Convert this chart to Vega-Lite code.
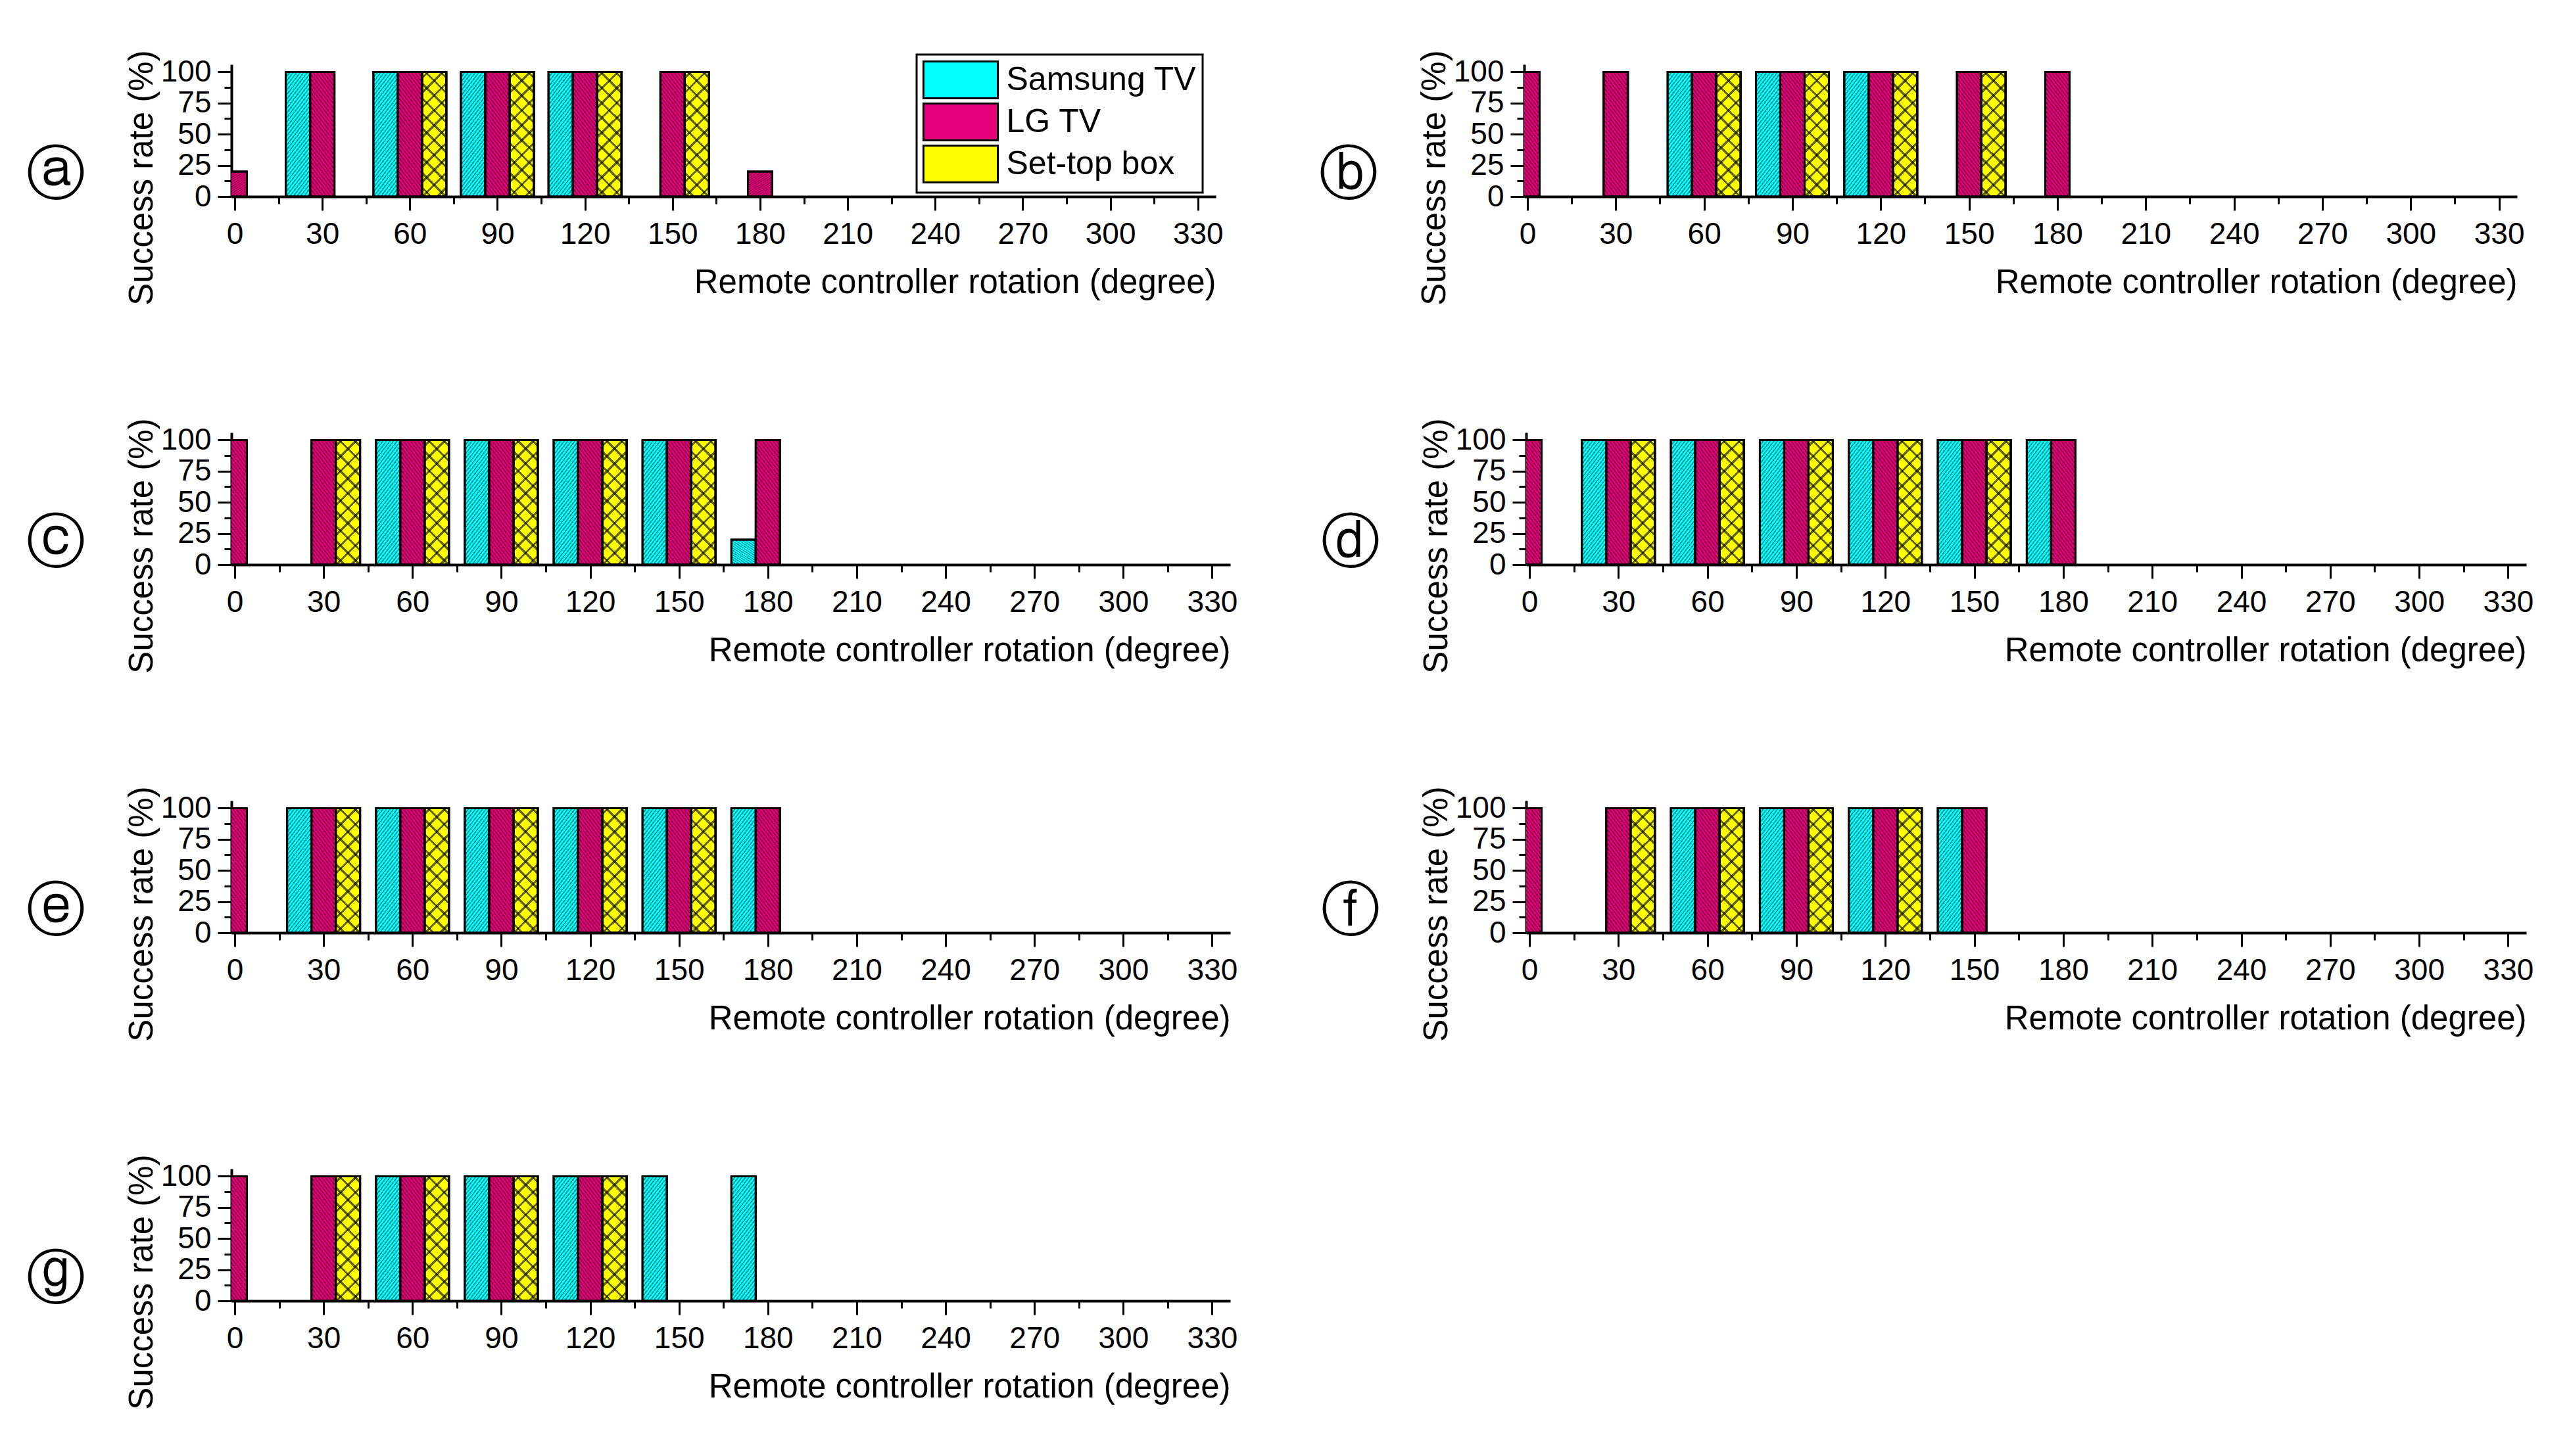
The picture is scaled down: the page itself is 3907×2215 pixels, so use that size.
{
"$schema": "https://vega.github.io/schema/vega-lite/v6.json",
"background": "white",
"padding": {"left": 40, "top": 75, "right": 5, "bottom": 5},
"params": [
 {"name": "hatchS", "value": {"gradient": "linear", "x1": 0, "y1": 0, "x2": 0.298, "y2": 1.1776, "stops": [
{"offset":0,"color":"rgba(0,0,0,0.42)"},{"offset":0.0118,"color":"rgba(0,0,0,0.42)"},{"offset":0.0118,"color":"rgba(0,0,0,0)"},
{"offset":0.0294,"color":"rgba(0,0,0,0)"},{"offset":0.0294,"color":"rgba(0,0,0,0.42)"},{"offset":0.0412,"color":"rgba(0,0,0,0.42)"},{"offset":0.0412,"color":"rgba(0,0,0,0)"},
{"offset":0.0588,"color":"rgba(0,0,0,0)"},{"offset":0.0588,"color":"rgba(0,0,0,0.42)"},{"offset":0.0706,"color":"rgba(0,0,0,0.42)"},{"offset":0.0706,"color":"rgba(0,0,0,0)"},
{"offset":0.0882,"color":"rgba(0,0,0,0)"},{"offset":0.0882,"color":"rgba(0,0,0,0.42)"},{"offset":0.1,"color":"rgba(0,0,0,0.42)"},{"offset":0.1,"color":"rgba(0,0,0,0)"},
{"offset":0.1176,"color":"rgba(0,0,0,0)"},{"offset":0.1176,"color":"rgba(0,0,0,0.42)"},{"offset":0.1294,"color":"rgba(0,0,0,0.42)"},{"offset":0.1294,"color":"rgba(0,0,0,0)"},
{"offset":0.1471,"color":"rgba(0,0,0,0)"},{"offset":0.1471,"color":"rgba(0,0,0,0.42)"},{"offset":0.1589,"color":"rgba(0,0,0,0.42)"},{"offset":0.1589,"color":"rgba(0,0,0,0)"},
{"offset":0.1765,"color":"rgba(0,0,0,0)"},{"offset":0.1765,"color":"rgba(0,0,0,0.42)"},{"offset":0.1883,"color":"rgba(0,0,0,0.42)"},{"offset":0.1883,"color":"rgba(0,0,0,0)"},
{"offset":0.2059,"color":"rgba(0,0,0,0)"},{"offset":0.2059,"color":"rgba(0,0,0,0.42)"},{"offset":0.2177,"color":"rgba(0,0,0,0.42)"},{"offset":0.2177,"color":"rgba(0,0,0,0)"},
{"offset":0.2353,"color":"rgba(0,0,0,0)"},{"offset":0.2353,"color":"rgba(0,0,0,0.42)"},{"offset":0.2471,"color":"rgba(0,0,0,0.42)"},{"offset":0.2471,"color":"rgba(0,0,0,0)"},
{"offset":0.2647,"color":"rgba(0,0,0,0)"},{"offset":0.2647,"color":"rgba(0,0,0,0.42)"},{"offset":0.2765,"color":"rgba(0,0,0,0.42)"},{"offset":0.2765,"color":"rgba(0,0,0,0)"},
{"offset":0.2941,"color":"rgba(0,0,0,0)"},{"offset":0.2941,"color":"rgba(0,0,0,0.42)"},{"offset":0.3059,"color":"rgba(0,0,0,0.42)"},{"offset":0.3059,"color":"rgba(0,0,0,0)"},
{"offset":0.3235,"color":"rgba(0,0,0,0)"},{"offset":0.3235,"color":"rgba(0,0,0,0.42)"},{"offset":0.3353,"color":"rgba(0,0,0,0.42)"},{"offset":0.3353,"color":"rgba(0,0,0,0)"},
{"offset":0.3529,"color":"rgba(0,0,0,0)"},{"offset":0.3529,"color":"rgba(0,0,0,0.42)"},{"offset":0.3647,"color":"rgba(0,0,0,0.42)"},{"offset":0.3647,"color":"rgba(0,0,0,0)"},
{"offset":0.3824,"color":"rgba(0,0,0,0)"},{"offset":0.3824,"color":"rgba(0,0,0,0.42)"},{"offset":0.3942,"color":"rgba(0,0,0,0.42)"},{"offset":0.3942,"color":"rgba(0,0,0,0)"},
{"offset":0.4118,"color":"rgba(0,0,0,0)"},{"offset":0.4118,"color":"rgba(0,0,0,0.42)"},{"offset":0.4236,"color":"rgba(0,0,0,0.42)"},{"offset":0.4236,"color":"rgba(0,0,0,0)"},
{"offset":0.4412,"color":"rgba(0,0,0,0)"},{"offset":0.4412,"color":"rgba(0,0,0,0.42)"},{"offset":0.453,"color":"rgba(0,0,0,0.42)"},{"offset":0.453,"color":"rgba(0,0,0,0)"},
{"offset":0.4706,"color":"rgba(0,0,0,0)"},{"offset":0.4706,"color":"rgba(0,0,0,0.42)"},{"offset":0.4824,"color":"rgba(0,0,0,0.42)"},{"offset":0.4824,"color":"rgba(0,0,0,0)"},
{"offset":0.5,"color":"rgba(0,0,0,0)"},{"offset":0.5,"color":"rgba(0,0,0,0.42)"},{"offset":0.5118,"color":"rgba(0,0,0,0.42)"},{"offset":0.5118,"color":"rgba(0,0,0,0)"},
{"offset":0.5294,"color":"rgba(0,0,0,0)"},{"offset":0.5294,"color":"rgba(0,0,0,0.42)"},{"offset":0.5412,"color":"rgba(0,0,0,0.42)"},{"offset":0.5412,"color":"rgba(0,0,0,0)"},
{"offset":0.5588,"color":"rgba(0,0,0,0)"},{"offset":0.5588,"color":"rgba(0,0,0,0.42)"},{"offset":0.5706,"color":"rgba(0,0,0,0.42)"},{"offset":0.5706,"color":"rgba(0,0,0,0)"},
{"offset":0.5882,"color":"rgba(0,0,0,0)"},{"offset":0.5882,"color":"rgba(0,0,0,0.42)"},{"offset":0.6,"color":"rgba(0,0,0,0.42)"},{"offset":0.6,"color":"rgba(0,0,0,0)"},
{"offset":0.6176,"color":"rgba(0,0,0,0)"},{"offset":0.6176,"color":"rgba(0,0,0,0.42)"},{"offset":0.6294,"color":"rgba(0,0,0,0.42)"},{"offset":0.6294,"color":"rgba(0,0,0,0)"},
{"offset":0.6471,"color":"rgba(0,0,0,0)"},{"offset":0.6471,"color":"rgba(0,0,0,0.42)"},{"offset":0.6589,"color":"rgba(0,0,0,0.42)"},{"offset":0.6589,"color":"rgba(0,0,0,0)"},
{"offset":0.6765,"color":"rgba(0,0,0,0)"},{"offset":0.6765,"color":"rgba(0,0,0,0.42)"},{"offset":0.6883,"color":"rgba(0,0,0,0.42)"},{"offset":0.6883,"color":"rgba(0,0,0,0)"},
{"offset":0.7059,"color":"rgba(0,0,0,0)"},{"offset":0.7059,"color":"rgba(0,0,0,0.42)"},{"offset":0.7177,"color":"rgba(0,0,0,0.42)"},{"offset":0.7177,"color":"rgba(0,0,0,0)"},
{"offset":0.7353,"color":"rgba(0,0,0,0)"},{"offset":0.7353,"color":"rgba(0,0,0,0.42)"},{"offset":0.7471,"color":"rgba(0,0,0,0.42)"},{"offset":0.7471,"color":"rgba(0,0,0,0)"},
{"offset":0.7647,"color":"rgba(0,0,0,0)"},{"offset":0.7647,"color":"rgba(0,0,0,0.42)"},{"offset":0.7765,"color":"rgba(0,0,0,0.42)"},{"offset":0.7765,"color":"rgba(0,0,0,0)"},
{"offset":0.7941,"color":"rgba(0,0,0,0)"},{"offset":0.7941,"color":"rgba(0,0,0,0.42)"},{"offset":0.8059,"color":"rgba(0,0,0,0.42)"},{"offset":0.8059,"color":"rgba(0,0,0,0)"},
{"offset":0.8235,"color":"rgba(0,0,0,0)"},{"offset":0.8235,"color":"rgba(0,0,0,0.42)"},{"offset":0.8353,"color":"rgba(0,0,0,0.42)"},{"offset":0.8353,"color":"rgba(0,0,0,0)"},
{"offset":0.8529,"color":"rgba(0,0,0,0)"},{"offset":0.8529,"color":"rgba(0,0,0,0.42)"},{"offset":0.8647,"color":"rgba(0,0,0,0.42)"},{"offset":0.8647,"color":"rgba(0,0,0,0)"},
{"offset":0.8824,"color":"rgba(0,0,0,0)"},{"offset":0.8824,"color":"rgba(0,0,0,0.42)"},{"offset":0.8942,"color":"rgba(0,0,0,0.42)"},{"offset":0.8942,"color":"rgba(0,0,0,0)"},
{"offset":0.9118,"color":"rgba(0,0,0,0)"},{"offset":0.9118,"color":"rgba(0,0,0,0.42)"},{"offset":0.9236,"color":"rgba(0,0,0,0.42)"},{"offset":0.9236,"color":"rgba(0,0,0,0)"},
{"offset":0.9412,"color":"rgba(0,0,0,0)"},{"offset":0.9412,"color":"rgba(0,0,0,0.42)"},{"offset":0.953,"color":"rgba(0,0,0,0.42)"},{"offset":0.953,"color":"rgba(0,0,0,0)"},
{"offset":0.9706,"color":"rgba(0,0,0,0)"},{"offset":0.9706,"color":"rgba(0,0,0,0.42)"},{"offset":0.9824,"color":"rgba(0,0,0,0.42)"},{"offset":0.9824,"color":"rgba(0,0,0,0)"},
{"offset":1,"color":"rgba(0,0,0,0)"}]}},
 {"name": "hatchL", "value": {"gradient": "linear", "x1": 1, "y1": 0, "x2": 0.702, "y2": 1.1776, "stops": [
{"offset":0,"color":"rgba(0,0,0,0.42)"},{"offset":0.0118,"color":"rgba(0,0,0,0.42)"},{"offset":0.0118,"color":"rgba(0,0,0,0)"},
{"offset":0.0294,"color":"rgba(0,0,0,0)"},{"offset":0.0294,"color":"rgba(0,0,0,0.42)"},{"offset":0.0412,"color":"rgba(0,0,0,0.42)"},{"offset":0.0412,"color":"rgba(0,0,0,0)"},
{"offset":0.0588,"color":"rgba(0,0,0,0)"},{"offset":0.0588,"color":"rgba(0,0,0,0.42)"},{"offset":0.0706,"color":"rgba(0,0,0,0.42)"},{"offset":0.0706,"color":"rgba(0,0,0,0)"},
{"offset":0.0882,"color":"rgba(0,0,0,0)"},{"offset":0.0882,"color":"rgba(0,0,0,0.42)"},{"offset":0.1,"color":"rgba(0,0,0,0.42)"},{"offset":0.1,"color":"rgba(0,0,0,0)"},
{"offset":0.1176,"color":"rgba(0,0,0,0)"},{"offset":0.1176,"color":"rgba(0,0,0,0.42)"},{"offset":0.1294,"color":"rgba(0,0,0,0.42)"},{"offset":0.1294,"color":"rgba(0,0,0,0)"},
{"offset":0.1471,"color":"rgba(0,0,0,0)"},{"offset":0.1471,"color":"rgba(0,0,0,0.42)"},{"offset":0.1589,"color":"rgba(0,0,0,0.42)"},{"offset":0.1589,"color":"rgba(0,0,0,0)"},
{"offset":0.1765,"color":"rgba(0,0,0,0)"},{"offset":0.1765,"color":"rgba(0,0,0,0.42)"},{"offset":0.1883,"color":"rgba(0,0,0,0.42)"},{"offset":0.1883,"color":"rgba(0,0,0,0)"},
{"offset":0.2059,"color":"rgba(0,0,0,0)"},{"offset":0.2059,"color":"rgba(0,0,0,0.42)"},{"offset":0.2177,"color":"rgba(0,0,0,0.42)"},{"offset":0.2177,"color":"rgba(0,0,0,0)"},
{"offset":0.2353,"color":"rgba(0,0,0,0)"},{"offset":0.2353,"color":"rgba(0,0,0,0.42)"},{"offset":0.2471,"color":"rgba(0,0,0,0.42)"},{"offset":0.2471,"color":"rgba(0,0,0,0)"},
{"offset":0.2647,"color":"rgba(0,0,0,0)"},{"offset":0.2647,"color":"rgba(0,0,0,0.42)"},{"offset":0.2765,"color":"rgba(0,0,0,0.42)"},{"offset":0.2765,"color":"rgba(0,0,0,0)"},
{"offset":0.2941,"color":"rgba(0,0,0,0)"},{"offset":0.2941,"color":"rgba(0,0,0,0.42)"},{"offset":0.3059,"color":"rgba(0,0,0,0.42)"},{"offset":0.3059,"color":"rgba(0,0,0,0)"},
{"offset":0.3235,"color":"rgba(0,0,0,0)"},{"offset":0.3235,"color":"rgba(0,0,0,0.42)"},{"offset":0.3353,"color":"rgba(0,0,0,0.42)"},{"offset":0.3353,"color":"rgba(0,0,0,0)"},
{"offset":0.3529,"color":"rgba(0,0,0,0)"},{"offset":0.3529,"color":"rgba(0,0,0,0.42)"},{"offset":0.3647,"color":"rgba(0,0,0,0.42)"},{"offset":0.3647,"color":"rgba(0,0,0,0)"},
{"offset":0.3824,"color":"rgba(0,0,0,0)"},{"offset":0.3824,"color":"rgba(0,0,0,0.42)"},{"offset":0.3942,"color":"rgba(0,0,0,0.42)"},{"offset":0.3942,"color":"rgba(0,0,0,0)"},
{"offset":0.4118,"color":"rgba(0,0,0,0)"},{"offset":0.4118,"color":"rgba(0,0,0,0.42)"},{"offset":0.4236,"color":"rgba(0,0,0,0.42)"},{"offset":0.4236,"color":"rgba(0,0,0,0)"},
{"offset":0.4412,"color":"rgba(0,0,0,0)"},{"offset":0.4412,"color":"rgba(0,0,0,0.42)"},{"offset":0.453,"color":"rgba(0,0,0,0.42)"},{"offset":0.453,"color":"rgba(0,0,0,0)"},
{"offset":0.4706,"color":"rgba(0,0,0,0)"},{"offset":0.4706,"color":"rgba(0,0,0,0.42)"},{"offset":0.4824,"color":"rgba(0,0,0,0.42)"},{"offset":0.4824,"color":"rgba(0,0,0,0)"},
{"offset":0.5,"color":"rgba(0,0,0,0)"},{"offset":0.5,"color":"rgba(0,0,0,0.42)"},{"offset":0.5118,"color":"rgba(0,0,0,0.42)"},{"offset":0.5118,"color":"rgba(0,0,0,0)"},
{"offset":0.5294,"color":"rgba(0,0,0,0)"},{"offset":0.5294,"color":"rgba(0,0,0,0.42)"},{"offset":0.5412,"color":"rgba(0,0,0,0.42)"},{"offset":0.5412,"color":"rgba(0,0,0,0)"},
{"offset":0.5588,"color":"rgba(0,0,0,0)"},{"offset":0.5588,"color":"rgba(0,0,0,0.42)"},{"offset":0.5706,"color":"rgba(0,0,0,0.42)"},{"offset":0.5706,"color":"rgba(0,0,0,0)"},
{"offset":0.5882,"color":"rgba(0,0,0,0)"},{"offset":0.5882,"color":"rgba(0,0,0,0.42)"},{"offset":0.6,"color":"rgba(0,0,0,0.42)"},{"offset":0.6,"color":"rgba(0,0,0,0)"},
{"offset":0.6176,"color":"rgba(0,0,0,0)"},{"offset":0.6176,"color":"rgba(0,0,0,0.42)"},{"offset":0.6294,"color":"rgba(0,0,0,0.42)"},{"offset":0.6294,"color":"rgba(0,0,0,0)"},
{"offset":0.6471,"color":"rgba(0,0,0,0)"},{"offset":0.6471,"color":"rgba(0,0,0,0.42)"},{"offset":0.6589,"color":"rgba(0,0,0,0.42)"},{"offset":0.6589,"color":"rgba(0,0,0,0)"},
{"offset":0.6765,"color":"rgba(0,0,0,0)"},{"offset":0.6765,"color":"rgba(0,0,0,0.42)"},{"offset":0.6883,"color":"rgba(0,0,0,0.42)"},{"offset":0.6883,"color":"rgba(0,0,0,0)"},
{"offset":0.7059,"color":"rgba(0,0,0,0)"},{"offset":0.7059,"color":"rgba(0,0,0,0.42)"},{"offset":0.7177,"color":"rgba(0,0,0,0.42)"},{"offset":0.7177,"color":"rgba(0,0,0,0)"},
{"offset":0.7353,"color":"rgba(0,0,0,0)"},{"offset":0.7353,"color":"rgba(0,0,0,0.42)"},{"offset":0.7471,"color":"rgba(0,0,0,0.42)"},{"offset":0.7471,"color":"rgba(0,0,0,0)"},
{"offset":0.7647,"color":"rgba(0,0,0,0)"},{"offset":0.7647,"color":"rgba(0,0,0,0.42)"},{"offset":0.7765,"color":"rgba(0,0,0,0.42)"},{"offset":0.7765,"color":"rgba(0,0,0,0)"},
{"offset":0.7941,"color":"rgba(0,0,0,0)"},{"offset":0.7941,"color":"rgba(0,0,0,0.42)"},{"offset":0.8059,"color":"rgba(0,0,0,0.42)"},{"offset":0.8059,"color":"rgba(0,0,0,0)"},
{"offset":0.8235,"color":"rgba(0,0,0,0)"},{"offset":0.8235,"color":"rgba(0,0,0,0.42)"},{"offset":0.8353,"color":"rgba(0,0,0,0.42)"},{"offset":0.8353,"color":"rgba(0,0,0,0)"},
{"offset":0.8529,"color":"rgba(0,0,0,0)"},{"offset":0.8529,"color":"rgba(0,0,0,0.42)"},{"offset":0.8647,"color":"rgba(0,0,0,0.42)"},{"offset":0.8647,"color":"rgba(0,0,0,0)"},
{"offset":0.8824,"color":"rgba(0,0,0,0)"},{"offset":0.8824,"color":"rgba(0,0,0,0.42)"},{"offset":0.8942,"color":"rgba(0,0,0,0.42)"},{"offset":0.8942,"color":"rgba(0,0,0,0)"},
{"offset":0.9118,"color":"rgba(0,0,0,0)"},{"offset":0.9118,"color":"rgba(0,0,0,0.42)"},{"offset":0.9236,"color":"rgba(0,0,0,0.42)"},{"offset":0.9236,"color":"rgba(0,0,0,0)"},
{"offset":0.9412,"color":"rgba(0,0,0,0)"},{"offset":0.9412,"color":"rgba(0,0,0,0.42)"},{"offset":0.953,"color":"rgba(0,0,0,0.42)"},{"offset":0.953,"color":"rgba(0,0,0,0)"},
{"offset":0.9706,"color":"rgba(0,0,0,0)"},{"offset":0.9706,"color":"rgba(0,0,0,0.42)"},{"offset":0.9824,"color":"rgba(0,0,0,0.42)"},{"offset":0.9824,"color":"rgba(0,0,0,0)"},
{"offset":1,"color":"rgba(0,0,0,0)"}]}},
 {"name": "hatchY1", "value": {"gradient": "linear", "x1": 0, "y1": 0, "x2": 0.224, "y2": 1.151, "stops": [
{"offset":0.03,"color":"rgba(0,0,0,0)"},{"offset":0.03,"color":"rgba(0,0,0,0.6)"},{"offset":0.05,"color":"rgba(0,0,0,0.6)"},{"offset":0.05,"color":"rgba(0,0,0,0)"},
{"offset":0.13,"color":"rgba(0,0,0,0)"},{"offset":0.13,"color":"rgba(0,0,0,0.6)"},{"offset":0.15,"color":"rgba(0,0,0,0.6)"},{"offset":0.15,"color":"rgba(0,0,0,0)"},
{"offset":0.23,"color":"rgba(0,0,0,0)"},{"offset":0.23,"color":"rgba(0,0,0,0.6)"},{"offset":0.25,"color":"rgba(0,0,0,0.6)"},{"offset":0.25,"color":"rgba(0,0,0,0)"},
{"offset":0.33,"color":"rgba(0,0,0,0)"},{"offset":0.33,"color":"rgba(0,0,0,0.6)"},{"offset":0.35,"color":"rgba(0,0,0,0.6)"},{"offset":0.35,"color":"rgba(0,0,0,0)"},
{"offset":0.43,"color":"rgba(0,0,0,0)"},{"offset":0.43,"color":"rgba(0,0,0,0.6)"},{"offset":0.45,"color":"rgba(0,0,0,0.6)"},{"offset":0.45,"color":"rgba(0,0,0,0)"},
{"offset":0.53,"color":"rgba(0,0,0,0)"},{"offset":0.53,"color":"rgba(0,0,0,0.6)"},{"offset":0.55,"color":"rgba(0,0,0,0.6)"},{"offset":0.55,"color":"rgba(0,0,0,0)"},
{"offset":0.63,"color":"rgba(0,0,0,0)"},{"offset":0.63,"color":"rgba(0,0,0,0.6)"},{"offset":0.65,"color":"rgba(0,0,0,0.6)"},{"offset":0.65,"color":"rgba(0,0,0,0)"},
{"offset":0.73,"color":"rgba(0,0,0,0)"},{"offset":0.73,"color":"rgba(0,0,0,0.6)"},{"offset":0.75,"color":"rgba(0,0,0,0.6)"},{"offset":0.75,"color":"rgba(0,0,0,0)"},
{"offset":0.83,"color":"rgba(0,0,0,0)"},{"offset":0.83,"color":"rgba(0,0,0,0.6)"},{"offset":0.85,"color":"rgba(0,0,0,0.6)"},{"offset":0.85,"color":"rgba(0,0,0,0)"},
{"offset":0.93,"color":"rgba(0,0,0,0)"},{"offset":0.93,"color":"rgba(0,0,0,0.6)"},{"offset":0.95,"color":"rgba(0,0,0,0.6)"},{"offset":0.95,"color":"rgba(0,0,0,0)"},
{"offset":1,"color":"rgba(0,0,0,0)"}]}},
 {"name": "hatchY2", "value": {"gradient": "linear", "x1": 1, "y1": 0, "x2": 0.776, "y2": 1.151, "stops": [
{"offset":0.03,"color":"rgba(0,0,0,0)"},{"offset":0.03,"color":"rgba(0,0,0,0.6)"},{"offset":0.05,"color":"rgba(0,0,0,0.6)"},{"offset":0.05,"color":"rgba(0,0,0,0)"},
{"offset":0.13,"color":"rgba(0,0,0,0)"},{"offset":0.13,"color":"rgba(0,0,0,0.6)"},{"offset":0.15,"color":"rgba(0,0,0,0.6)"},{"offset":0.15,"color":"rgba(0,0,0,0)"},
{"offset":0.23,"color":"rgba(0,0,0,0)"},{"offset":0.23,"color":"rgba(0,0,0,0.6)"},{"offset":0.25,"color":"rgba(0,0,0,0.6)"},{"offset":0.25,"color":"rgba(0,0,0,0)"},
{"offset":0.33,"color":"rgba(0,0,0,0)"},{"offset":0.33,"color":"rgba(0,0,0,0.6)"},{"offset":0.35,"color":"rgba(0,0,0,0.6)"},{"offset":0.35,"color":"rgba(0,0,0,0)"},
{"offset":0.43,"color":"rgba(0,0,0,0)"},{"offset":0.43,"color":"rgba(0,0,0,0.6)"},{"offset":0.45,"color":"rgba(0,0,0,0.6)"},{"offset":0.45,"color":"rgba(0,0,0,0)"},
{"offset":0.53,"color":"rgba(0,0,0,0)"},{"offset":0.53,"color":"rgba(0,0,0,0.6)"},{"offset":0.55,"color":"rgba(0,0,0,0.6)"},{"offset":0.55,"color":"rgba(0,0,0,0)"},
{"offset":0.63,"color":"rgba(0,0,0,0)"},{"offset":0.63,"color":"rgba(0,0,0,0.6)"},{"offset":0.65,"color":"rgba(0,0,0,0.6)"},{"offset":0.65,"color":"rgba(0,0,0,0)"},
{"offset":0.73,"color":"rgba(0,0,0,0)"},{"offset":0.73,"color":"rgba(0,0,0,0.6)"},{"offset":0.75,"color":"rgba(0,0,0,0.6)"},{"offset":0.75,"color":"rgba(0,0,0,0)"},
{"offset":0.83,"color":"rgba(0,0,0,0)"},{"offset":0.83,"color":"rgba(0,0,0,0.6)"},{"offset":0.85,"color":"rgba(0,0,0,0.6)"},{"offset":0.85,"color":"rgba(0,0,0,0)"},
{"offset":0.93,"color":"rgba(0,0,0,0)"},{"offset":0.93,"color":"rgba(0,0,0,0.6)"},{"offset":0.95,"color":"rgba(0,0,0,0.6)"},{"offset":0.95,"color":"rgba(0,0,0,0)"},
{"offset":1,"color":"rgba(0,0,0,0)"}]}}
],
"datasets": {"bars": [
{"panel":"a","angle":0,"device":"LG TV","rate":20},
{"panel":"a","angle":30,"device":"Samsung TV","rate":100},{"panel":"a","angle":30,"device":"LG TV","rate":100},
{"panel":"a","angle":60,"device":"Samsung TV","rate":100},{"panel":"a","angle":60,"device":"LG TV","rate":100},{"panel":"a","angle":60,"device":"Set-top box","rate":100},
{"panel":"a","angle":90,"device":"Samsung TV","rate":100},{"panel":"a","angle":90,"device":"LG TV","rate":100},{"panel":"a","angle":90,"device":"Set-top box","rate":100},
{"panel":"a","angle":120,"device":"Samsung TV","rate":100},{"panel":"a","angle":120,"device":"LG TV","rate":100},{"panel":"a","angle":120,"device":"Set-top box","rate":100},
{"panel":"a","angle":150,"device":"LG TV","rate":100},{"panel":"a","angle":150,"device":"Set-top box","rate":100},
{"panel":"a","angle":180,"device":"LG TV","rate":20},
{"panel":"b","angle":0,"device":"LG TV","rate":100},
{"panel":"b","angle":30,"device":"LG TV","rate":100},
{"panel":"b","angle":60,"device":"Samsung TV","rate":100},{"panel":"b","angle":60,"device":"LG TV","rate":100},{"panel":"b","angle":60,"device":"Set-top box","rate":100},
{"panel":"b","angle":90,"device":"Samsung TV","rate":100},{"panel":"b","angle":90,"device":"LG TV","rate":100},{"panel":"b","angle":90,"device":"Set-top box","rate":100},
{"panel":"b","angle":120,"device":"Samsung TV","rate":100},{"panel":"b","angle":120,"device":"LG TV","rate":100},{"panel":"b","angle":120,"device":"Set-top box","rate":100},
{"panel":"b","angle":150,"device":"LG TV","rate":100},{"panel":"b","angle":150,"device":"Set-top box","rate":100},
{"panel":"b","angle":180,"device":"LG TV","rate":100},
{"panel":"c","angle":0,"device":"LG TV","rate":100},
{"panel":"c","angle":30,"device":"LG TV","rate":100},{"panel":"c","angle":30,"device":"Set-top box","rate":100},
{"panel":"c","angle":60,"device":"Samsung TV","rate":100},{"panel":"c","angle":60,"device":"LG TV","rate":100},{"panel":"c","angle":60,"device":"Set-top box","rate":100},
{"panel":"c","angle":90,"device":"Samsung TV","rate":100},{"panel":"c","angle":90,"device":"LG TV","rate":100},{"panel":"c","angle":90,"device":"Set-top box","rate":100},
{"panel":"c","angle":120,"device":"Samsung TV","rate":100},{"panel":"c","angle":120,"device":"LG TV","rate":100},{"panel":"c","angle":120,"device":"Set-top box","rate":100},
{"panel":"c","angle":150,"device":"Samsung TV","rate":100},{"panel":"c","angle":150,"device":"LG TV","rate":100},{"panel":"c","angle":150,"device":"Set-top box","rate":100},
{"panel":"c","angle":180,"device":"Samsung TV","rate":20},{"panel":"c","angle":180,"device":"LG TV","rate":100},
{"panel":"d","angle":0,"device":"LG TV","rate":100},
{"panel":"d","angle":30,"device":"Samsung TV","rate":100},{"panel":"d","angle":30,"device":"LG TV","rate":100},{"panel":"d","angle":30,"device":"Set-top box","rate":100},
{"panel":"d","angle":60,"device":"Samsung TV","rate":100},{"panel":"d","angle":60,"device":"LG TV","rate":100},{"panel":"d","angle":60,"device":"Set-top box","rate":100},
{"panel":"d","angle":90,"device":"Samsung TV","rate":100},{"panel":"d","angle":90,"device":"LG TV","rate":100},{"panel":"d","angle":90,"device":"Set-top box","rate":100},
{"panel":"d","angle":120,"device":"Samsung TV","rate":100},{"panel":"d","angle":120,"device":"LG TV","rate":100},{"panel":"d","angle":120,"device":"Set-top box","rate":100},
{"panel":"d","angle":150,"device":"Samsung TV","rate":100},{"panel":"d","angle":150,"device":"LG TV","rate":100},{"panel":"d","angle":150,"device":"Set-top box","rate":100},
{"panel":"d","angle":180,"device":"Samsung TV","rate":100},{"panel":"d","angle":180,"device":"LG TV","rate":100},
{"panel":"e","angle":0,"device":"LG TV","rate":100},
{"panel":"e","angle":30,"device":"Samsung TV","rate":100},{"panel":"e","angle":30,"device":"LG TV","rate":100},{"panel":"e","angle":30,"device":"Set-top box","rate":100},
{"panel":"e","angle":60,"device":"Samsung TV","rate":100},{"panel":"e","angle":60,"device":"LG TV","rate":100},{"panel":"e","angle":60,"device":"Set-top box","rate":100},
{"panel":"e","angle":90,"device":"Samsung TV","rate":100},{"panel":"e","angle":90,"device":"LG TV","rate":100},{"panel":"e","angle":90,"device":"Set-top box","rate":100},
{"panel":"e","angle":120,"device":"Samsung TV","rate":100},{"panel":"e","angle":120,"device":"LG TV","rate":100},{"panel":"e","angle":120,"device":"Set-top box","rate":100},
{"panel":"e","angle":150,"device":"Samsung TV","rate":100},{"panel":"e","angle":150,"device":"LG TV","rate":100},{"panel":"e","angle":150,"device":"Set-top box","rate":100},
{"panel":"e","angle":180,"device":"Samsung TV","rate":100},{"panel":"e","angle":180,"device":"LG TV","rate":100},
{"panel":"f","angle":0,"device":"LG TV","rate":100},
{"panel":"f","angle":30,"device":"LG TV","rate":100},{"panel":"f","angle":30,"device":"Set-top box","rate":100},
{"panel":"f","angle":60,"device":"Samsung TV","rate":100},{"panel":"f","angle":60,"device":"LG TV","rate":100},{"panel":"f","angle":60,"device":"Set-top box","rate":100},
{"panel":"f","angle":90,"device":"Samsung TV","rate":100},{"panel":"f","angle":90,"device":"LG TV","rate":100},{"panel":"f","angle":90,"device":"Set-top box","rate":100},
{"panel":"f","angle":120,"device":"Samsung TV","rate":100},{"panel":"f","angle":120,"device":"LG TV","rate":100},{"panel":"f","angle":120,"device":"Set-top box","rate":100},
{"panel":"f","angle":150,"device":"Samsung TV","rate":100},{"panel":"f","angle":150,"device":"LG TV","rate":100},
{"panel":"g","angle":0,"device":"LG TV","rate":100},
{"panel":"g","angle":30,"device":"LG TV","rate":100},{"panel":"g","angle":30,"device":"Set-top box","rate":100},
{"panel":"g","angle":60,"device":"Samsung TV","rate":100},{"panel":"g","angle":60,"device":"LG TV","rate":100},{"panel":"g","angle":60,"device":"Set-top box","rate":100},
{"panel":"g","angle":90,"device":"Samsung TV","rate":100},{"panel":"g","angle":90,"device":"LG TV","rate":100},{"panel":"g","angle":90,"device":"Set-top box","rate":100},
{"panel":"g","angle":120,"device":"Samsung TV","rate":100},{"panel":"g","angle":120,"device":"LG TV","rate":100},{"panel":"g","angle":120,"device":"Set-top box","rate":100},
{"panel":"g","angle":150,"device":"Samsung TV","rate":100},
{"panel":"g","angle":180,"device":"Samsung TV","rate":100}
]},
"spacing": 170,
"resolve": {"scale": {"color": "independent"}, "legend": {"color": "independent"}},
"vconcat": [
{"hconcat": [
{"width": 1497, "height": 201,
 "title": {"text": "ⓐ", "orient": "left", "angle": 0, "align": "right", "baseline": "middle", "fontSize": 90, "font": "DejaVu Sans", "fontWeight": "normal", "offset": -30, "dy": 68, "color": "black"},
 "data": {"name": "bars"},
 "transform": [{"filter": "datum.panel == 'a'"}],
 "encoding": {
  "x": {"field": "angle", "type": "quantitative", "scale": {"domain": [0, 335], "nice": false, "zero": false}, "axis": {"title": "Remote controller rotation (degree)", "values": [0,15,30,45,60,75,90,105,120,135,150,165,180,195,210,225,240,255,270,285,300,315,330], "labelExpr": "datum.value % 30 == 0 ? datum.label : ''", "tickSize": {"condition": {"test": "datum.value % 30 == 0", "value": 21}, "value": 11}}},
  "y": {"field": "rate", "type": "quantitative", "stack": null, "scale": {"domain": [0, 106], "nice": false}, "axis": {"title": "Success rate (%)", "titleY": 172, "values": [0,12.5,25,37.5,50,62.5,75,87.5,100], "labelExpr": "datum.value % 25 == 0 ? datum.label : ''", "tickSize": {"condition": {"test": "datum.value % 25 == 0", "value": 21}, "value": 11}}}
 },
 "layer": [
  {"transform": [{"filter": "datum.device == 'Samsung TV'"}], "mark": {"type": "bar", "width": 37, "xOffset": -37, "clip": true}, "encoding": {"color": {"field": "device", "type": "nominal", "scale": {"domain": ["Samsung TV", "LG TV", "Set-top box"], "range": ["#00FFFF", "#E5007A", "#FFFF00"]}, "legend": {"orient": "none", "legendX": 1042, "legendY": -15, "title": null}}}},
  {"transform": [{"filter": "datum.device == 'LG TV'"}], "mark": {"type": "bar", "width": 37, "xOffset": 0, "clip": true}, "encoding": {"color": {"field": "device", "type": "nominal", "scale": {"domain": ["Samsung TV", "LG TV", "Set-top box"], "range": ["#00FFFF", "#E5007A", "#FFFF00"]}, "legend": {"orient": "none", "legendX": 1042, "legendY": -15, "title": null}}}},
  {"transform": [{"filter": "datum.device == 'Set-top box'"}], "mark": {"type": "bar", "width": 37, "xOffset": 37, "clip": true}, "encoding": {"color": {"field": "device", "type": "nominal", "scale": {"domain": ["Samsung TV", "LG TV", "Set-top box"], "range": ["#00FFFF", "#E5007A", "#FFFF00"]}, "legend": {"orient": "none", "legendX": 1042, "legendY": -15, "title": null}}}},
  {"transform": [{"filter": "datum.device == 'Samsung TV'"}], "mark": {"type": "bar", "fill": {"expr": "hatchS"}, "width": 37, "xOffset": -37, "clip": true}},
  {"transform": [{"filter": "datum.device == 'LG TV'"}], "mark": {"type": "bar", "fill": {"expr": "hatchL"}, "width": 37, "xOffset": 0, "clip": true}},
  {"transform": [{"filter": "datum.device == 'Set-top box'"}], "mark": {"type": "bar", "fill": {"expr": "hatchY1"}, "width": 37, "xOffset": 37, "clip": true}},
  {"transform": [{"filter": "datum.device == 'Set-top box'"}], "mark": {"type": "bar", "fill": {"expr": "hatchY2"}, "width": 37, "xOffset": 37, "clip": true}}
 ]},
{"width": 1510, "height": 201,
 "title": {"text": "ⓑ", "orient": "left", "angle": 0, "align": "right", "baseline": "middle", "fontSize": 90, "font": "DejaVu Sans", "fontWeight": "normal", "offset": -30, "dy": 68, "color": "black"},
 "data": {"name": "bars"},
 "transform": [{"filter": "datum.panel == 'b'"}],
 "encoding": {
  "x": {"field": "angle", "type": "quantitative", "scale": {"domain": [0, 335], "nice": false, "zero": false}, "axis": {"title": "Remote controller rotation (degree)", "values": [0,15,30,45,60,75,90,105,120,135,150,165,180,195,210,225,240,255,270,285,300,315,330], "labelExpr": "datum.value % 30 == 0 ? datum.label : ''", "tickSize": {"condition": {"test": "datum.value % 30 == 0", "value": 21}, "value": 11}}},
  "y": {"field": "rate", "type": "quantitative", "stack": null, "scale": {"domain": [0, 106], "nice": false}, "axis": {"title": "Success rate (%)", "titleY": 172, "values": [0,12.5,25,37.5,50,62.5,75,87.5,100], "labelExpr": "datum.value % 25 == 0 ? datum.label : ''", "tickSize": {"condition": {"test": "datum.value % 25 == 0", "value": 21}, "value": 11}}}
 },
 "layer": [
  {"transform": [{"filter": "datum.device == 'Samsung TV'"}], "mark": {"type": "bar", "width": 37, "xOffset": -37, "clip": true}, "encoding": {"color": {"field": "device", "type": "nominal", "scale": {"domain": ["Samsung TV", "LG TV", "Set-top box"], "range": ["#00FFFF", "#E5007A", "#FFFF00"]}, "legend": null}}},
  {"transform": [{"filter": "datum.device == 'LG TV'"}], "mark": {"type": "bar", "width": 37, "xOffset": 0, "clip": true}, "encoding": {"color": {"field": "device", "type": "nominal", "scale": {"domain": ["Samsung TV", "LG TV", "Set-top box"], "range": ["#00FFFF", "#E5007A", "#FFFF00"]}, "legend": null}}},
  {"transform": [{"filter": "datum.device == 'Set-top box'"}], "mark": {"type": "bar", "width": 37, "xOffset": 37, "clip": true}, "encoding": {"color": {"field": "device", "type": "nominal", "scale": {"domain": ["Samsung TV", "LG TV", "Set-top box"], "range": ["#00FFFF", "#E5007A", "#FFFF00"]}, "legend": null}}},
  {"transform": [{"filter": "datum.device == 'Samsung TV'"}], "mark": {"type": "bar", "fill": {"expr": "hatchS"}, "width": 37, "xOffset": -37, "clip": true}},
  {"transform": [{"filter": "datum.device == 'LG TV'"}], "mark": {"type": "bar", "fill": {"expr": "hatchL"}, "width": 37, "xOffset": 0, "clip": true}},
  {"transform": [{"filter": "datum.device == 'Set-top box'"}], "mark": {"type": "bar", "fill": {"expr": "hatchY1"}, "width": 37, "xOffset": 37, "clip": true}},
  {"transform": [{"filter": "datum.device == 'Set-top box'"}], "mark": {"type": "bar", "fill": {"expr": "hatchY2"}, "width": 37, "xOffset": 37, "clip": true}}
 ]}
], "spacing": 145, "resolve": {"scale": {"color": "independent"}, "legend": {"color": "independent"}}},
{"hconcat": [
{"width": 1519, "height": 201,
 "title": {"text": "ⓒ", "orient": "left", "angle": 0, "align": "right", "baseline": "middle", "fontSize": 90, "font": "DejaVu Sans", "fontWeight": "normal", "offset": -30, "dy": 68, "color": "black"},
 "data": {"name": "bars"},
 "transform": [{"filter": "datum.panel == 'c'"}],
 "encoding": {
  "x": {"field": "angle", "type": "quantitative", "scale": {"domain": [0, 335], "nice": false, "zero": false}, "axis": {"title": "Remote controller rotation (degree)", "values": [0,15,30,45,60,75,90,105,120,135,150,165,180,195,210,225,240,255,270,285,300,315,330], "labelExpr": "datum.value % 30 == 0 ? datum.label : ''", "tickSize": {"condition": {"test": "datum.value % 30 == 0", "value": 21}, "value": 11}}},
  "y": {"field": "rate", "type": "quantitative", "stack": null, "scale": {"domain": [0, 106], "nice": false}, "axis": {"title": "Success rate (%)", "titleY": 172, "values": [0,12.5,25,37.5,50,62.5,75,87.5,100], "labelExpr": "datum.value % 25 == 0 ? datum.label : ''", "tickSize": {"condition": {"test": "datum.value % 25 == 0", "value": 21}, "value": 11}}}
 },
 "layer": [
  {"transform": [{"filter": "datum.device == 'Samsung TV'"}], "mark": {"type": "bar", "width": 37, "xOffset": -37, "clip": true}, "encoding": {"color": {"field": "device", "type": "nominal", "scale": {"domain": ["Samsung TV", "LG TV", "Set-top box"], "range": ["#00FFFF", "#E5007A", "#FFFF00"]}, "legend": null}}},
  {"transform": [{"filter": "datum.device == 'LG TV'"}], "mark": {"type": "bar", "width": 37, "xOffset": 0, "clip": true}, "encoding": {"color": {"field": "device", "type": "nominal", "scale": {"domain": ["Samsung TV", "LG TV", "Set-top box"], "range": ["#00FFFF", "#E5007A", "#FFFF00"]}, "legend": null}}},
  {"transform": [{"filter": "datum.device == 'Set-top box'"}], "mark": {"type": "bar", "width": 37, "xOffset": 37, "clip": true}, "encoding": {"color": {"field": "device", "type": "nominal", "scale": {"domain": ["Samsung TV", "LG TV", "Set-top box"], "range": ["#00FFFF", "#E5007A", "#FFFF00"]}, "legend": null}}},
  {"transform": [{"filter": "datum.device == 'Samsung TV'"}], "mark": {"type": "bar", "fill": {"expr": "hatchS"}, "width": 37, "xOffset": -37, "clip": true}},
  {"transform": [{"filter": "datum.device == 'LG TV'"}], "mark": {"type": "bar", "fill": {"expr": "hatchL"}, "width": 37, "xOffset": 0, "clip": true}},
  {"transform": [{"filter": "datum.device == 'Set-top box'"}], "mark": {"type": "bar", "fill": {"expr": "hatchY1"}, "width": 37, "xOffset": 37, "clip": true}},
  {"transform": [{"filter": "datum.device == 'Set-top box'"}], "mark": {"type": "bar", "fill": {"expr": "hatchY2"}, "width": 37, "xOffset": 37, "clip": true}}
 ]},
{"width": 1521, "height": 201,
 "title": {"text": "ⓓ", "orient": "left", "angle": 0, "align": "right", "baseline": "middle", "fontSize": 90, "font": "DejaVu Sans", "fontWeight": "normal", "offset": -30, "dy": 68, "color": "black"},
 "data": {"name": "bars"},
 "transform": [{"filter": "datum.panel == 'd'"}],
 "encoding": {
  "x": {"field": "angle", "type": "quantitative", "scale": {"domain": [0, 335], "nice": false, "zero": false}, "axis": {"title": "Remote controller rotation (degree)", "values": [0,15,30,45,60,75,90,105,120,135,150,165,180,195,210,225,240,255,270,285,300,315,330], "labelExpr": "datum.value % 30 == 0 ? datum.label : ''", "tickSize": {"condition": {"test": "datum.value % 30 == 0", "value": 21}, "value": 11}}},
  "y": {"field": "rate", "type": "quantitative", "stack": null, "scale": {"domain": [0, 106], "nice": false}, "axis": {"title": "Success rate (%)", "titleY": 172, "values": [0,12.5,25,37.5,50,62.5,75,87.5,100], "labelExpr": "datum.value % 25 == 0 ? datum.label : ''", "tickSize": {"condition": {"test": "datum.value % 25 == 0", "value": 21}, "value": 11}}}
 },
 "layer": [
  {"transform": [{"filter": "datum.device == 'Samsung TV'"}], "mark": {"type": "bar", "width": 37, "xOffset": -37, "clip": true}, "encoding": {"color": {"field": "device", "type": "nominal", "scale": {"domain": ["Samsung TV", "LG TV", "Set-top box"], "range": ["#00FFFF", "#E5007A", "#FFFF00"]}, "legend": null}}},
  {"transform": [{"filter": "datum.device == 'LG TV'"}], "mark": {"type": "bar", "width": 37, "xOffset": 0, "clip": true}, "encoding": {"color": {"field": "device", "type": "nominal", "scale": {"domain": ["Samsung TV", "LG TV", "Set-top box"], "range": ["#00FFFF", "#E5007A", "#FFFF00"]}, "legend": null}}},
  {"transform": [{"filter": "datum.device == 'Set-top box'"}], "mark": {"type": "bar", "width": 37, "xOffset": 37, "clip": true}, "encoding": {"color": {"field": "device", "type": "nominal", "scale": {"domain": ["Samsung TV", "LG TV", "Set-top box"], "range": ["#00FFFF", "#E5007A", "#FFFF00"]}, "legend": null}}},
  {"transform": [{"filter": "datum.device == 'Samsung TV'"}], "mark": {"type": "bar", "fill": {"expr": "hatchS"}, "width": 37, "xOffset": -37, "clip": true}},
  {"transform": [{"filter": "datum.device == 'LG TV'"}], "mark": {"type": "bar", "fill": {"expr": "hatchL"}, "width": 37, "xOffset": 0, "clip": true}},
  {"transform": [{"filter": "datum.device == 'Set-top box'"}], "mark": {"type": "bar", "fill": {"expr": "hatchY1"}, "width": 37, "xOffset": 37, "clip": true}},
  {"transform": [{"filter": "datum.device == 'Set-top box'"}], "mark": {"type": "bar", "fill": {"expr": "hatchY2"}, "width": 37, "xOffset": 37, "clip": true}}
 ]}
], "spacing": 127, "resolve": {"scale": {"color": "independent"}, "legend": {"color": "independent"}}},
{"hconcat": [
{"width": 1519, "height": 201,
 "title": {"text": "ⓔ", "orient": "left", "angle": 0, "align": "right", "baseline": "middle", "fontSize": 90, "font": "DejaVu Sans", "fontWeight": "normal", "offset": -30, "dy": 68, "color": "black"},
 "data": {"name": "bars"},
 "transform": [{"filter": "datum.panel == 'e'"}],
 "encoding": {
  "x": {"field": "angle", "type": "quantitative", "scale": {"domain": [0, 335], "nice": false, "zero": false}, "axis": {"title": "Remote controller rotation (degree)", "values": [0,15,30,45,60,75,90,105,120,135,150,165,180,195,210,225,240,255,270,285,300,315,330], "labelExpr": "datum.value % 30 == 0 ? datum.label : ''", "tickSize": {"condition": {"test": "datum.value % 30 == 0", "value": 21}, "value": 11}}},
  "y": {"field": "rate", "type": "quantitative", "stack": null, "scale": {"domain": [0, 106], "nice": false}, "axis": {"title": "Success rate (%)", "titleY": 172, "values": [0,12.5,25,37.5,50,62.5,75,87.5,100], "labelExpr": "datum.value % 25 == 0 ? datum.label : ''", "tickSize": {"condition": {"test": "datum.value % 25 == 0", "value": 21}, "value": 11}}}
 },
 "layer": [
  {"transform": [{"filter": "datum.device == 'Samsung TV'"}], "mark": {"type": "bar", "width": 37, "xOffset": -37, "clip": true}, "encoding": {"color": {"field": "device", "type": "nominal", "scale": {"domain": ["Samsung TV", "LG TV", "Set-top box"], "range": ["#00FFFF", "#E5007A", "#FFFF00"]}, "legend": null}}},
  {"transform": [{"filter": "datum.device == 'LG TV'"}], "mark": {"type": "bar", "width": 37, "xOffset": 0, "clip": true}, "encoding": {"color": {"field": "device", "type": "nominal", "scale": {"domain": ["Samsung TV", "LG TV", "Set-top box"], "range": ["#00FFFF", "#E5007A", "#FFFF00"]}, "legend": null}}},
  {"transform": [{"filter": "datum.device == 'Set-top box'"}], "mark": {"type": "bar", "width": 37, "xOffset": 37, "clip": true}, "encoding": {"color": {"field": "device", "type": "nominal", "scale": {"domain": ["Samsung TV", "LG TV", "Set-top box"], "range": ["#00FFFF", "#E5007A", "#FFFF00"]}, "legend": null}}},
  {"transform": [{"filter": "datum.device == 'Samsung TV'"}], "mark": {"type": "bar", "fill": {"expr": "hatchS"}, "width": 37, "xOffset": -37, "clip": true}},
  {"transform": [{"filter": "datum.device == 'LG TV'"}], "mark": {"type": "bar", "fill": {"expr": "hatchL"}, "width": 37, "xOffset": 0, "clip": true}},
  {"transform": [{"filter": "datum.device == 'Set-top box'"}], "mark": {"type": "bar", "fill": {"expr": "hatchY1"}, "width": 37, "xOffset": 37, "clip": true}},
  {"transform": [{"filter": "datum.device == 'Set-top box'"}], "mark": {"type": "bar", "fill": {"expr": "hatchY2"}, "width": 37, "xOffset": 37, "clip": true}}
 ]},
{"width": 1521, "height": 201,
 "title": {"text": "ⓕ", "orient": "left", "angle": 0, "align": "right", "baseline": "middle", "fontSize": 90, "font": "DejaVu Sans", "fontWeight": "normal", "offset": -30, "dy": 68, "color": "black"},
 "data": {"name": "bars"},
 "transform": [{"filter": "datum.panel == 'f'"}],
 "encoding": {
  "x": {"field": "angle", "type": "quantitative", "scale": {"domain": [0, 335], "nice": false, "zero": false}, "axis": {"title": "Remote controller rotation (degree)", "values": [0,15,30,45,60,75,90,105,120,135,150,165,180,195,210,225,240,255,270,285,300,315,330], "labelExpr": "datum.value % 30 == 0 ? datum.label : ''", "tickSize": {"condition": {"test": "datum.value % 30 == 0", "value": 21}, "value": 11}}},
  "y": {"field": "rate", "type": "quantitative", "stack": null, "scale": {"domain": [0, 106], "nice": false}, "axis": {"title": "Success rate (%)", "titleY": 172, "values": [0,12.5,25,37.5,50,62.5,75,87.5,100], "labelExpr": "datum.value % 25 == 0 ? datum.label : ''", "tickSize": {"condition": {"test": "datum.value % 25 == 0", "value": 21}, "value": 11}}}
 },
 "layer": [
  {"transform": [{"filter": "datum.device == 'Samsung TV'"}], "mark": {"type": "bar", "width": 37, "xOffset": -37, "clip": true}, "encoding": {"color": {"field": "device", "type": "nominal", "scale": {"domain": ["Samsung TV", "LG TV", "Set-top box"], "range": ["#00FFFF", "#E5007A", "#FFFF00"]}, "legend": null}}},
  {"transform": [{"filter": "datum.device == 'LG TV'"}], "mark": {"type": "bar", "width": 37, "xOffset": 0, "clip": true}, "encoding": {"color": {"field": "device", "type": "nominal", "scale": {"domain": ["Samsung TV", "LG TV", "Set-top box"], "range": ["#00FFFF", "#E5007A", "#FFFF00"]}, "legend": null}}},
  {"transform": [{"filter": "datum.device == 'Set-top box'"}], "mark": {"type": "bar", "width": 37, "xOffset": 37, "clip": true}, "encoding": {"color": {"field": "device", "type": "nominal", "scale": {"domain": ["Samsung TV", "LG TV", "Set-top box"], "range": ["#00FFFF", "#E5007A", "#FFFF00"]}, "legend": null}}},
  {"transform": [{"filter": "datum.device == 'Samsung TV'"}], "mark": {"type": "bar", "fill": {"expr": "hatchS"}, "width": 37, "xOffset": -37, "clip": true}},
  {"transform": [{"filter": "datum.device == 'LG TV'"}], "mark": {"type": "bar", "fill": {"expr": "hatchL"}, "width": 37, "xOffset": 0, "clip": true}},
  {"transform": [{"filter": "datum.device == 'Set-top box'"}], "mark": {"type": "bar", "fill": {"expr": "hatchY1"}, "width": 37, "xOffset": 37, "clip": true}},
  {"transform": [{"filter": "datum.device == 'Set-top box'"}], "mark": {"type": "bar", "fill": {"expr": "hatchY2"}, "width": 37, "xOffset": 37, "clip": true}}
 ]}
], "spacing": 127, "resolve": {"scale": {"color": "independent"}, "legend": {"color": "independent"}}},
{"width": 1519, "height": 201,
 "title": {"text": "ⓖ", "orient": "left", "angle": 0, "align": "right", "baseline": "middle", "fontSize": 90, "font": "DejaVu Sans", "fontWeight": "normal", "offset": -30, "dy": 68, "color": "black"},
 "data": {"name": "bars"},
 "transform": [{"filter": "datum.panel == 'g'"}],
 "encoding": {
  "x": {"field": "angle", "type": "quantitative", "scale": {"domain": [0, 335], "nice": false, "zero": false}, "axis": {"title": "Remote controller rotation (degree)", "values": [0,15,30,45,60,75,90,105,120,135,150,165,180,195,210,225,240,255,270,285,300,315,330], "labelExpr": "datum.value % 30 == 0 ? datum.label : ''", "tickSize": {"condition": {"test": "datum.value % 30 == 0", "value": 21}, "value": 11}}},
  "y": {"field": "rate", "type": "quantitative", "stack": null, "scale": {"domain": [0, 106], "nice": false}, "axis": {"title": "Success rate (%)", "titleY": 172, "values": [0,12.5,25,37.5,50,62.5,75,87.5,100], "labelExpr": "datum.value % 25 == 0 ? datum.label : ''", "tickSize": {"condition": {"test": "datum.value % 25 == 0", "value": 21}, "value": 11}}}
 },
 "layer": [
  {"transform": [{"filter": "datum.device == 'Samsung TV'"}], "mark": {"type": "bar", "width": 37, "xOffset": -37, "clip": true}, "encoding": {"color": {"field": "device", "type": "nominal", "scale": {"domain": ["Samsung TV", "LG TV", "Set-top box"], "range": ["#00FFFF", "#E5007A", "#FFFF00"]}, "legend": null}}},
  {"transform": [{"filter": "datum.device == 'LG TV'"}], "mark": {"type": "bar", "width": 37, "xOffset": 0, "clip": true}, "encoding": {"color": {"field": "device", "type": "nominal", "scale": {"domain": ["Samsung TV", "LG TV", "Set-top box"], "range": ["#00FFFF", "#E5007A", "#FFFF00"]}, "legend": null}}},
  {"transform": [{"filter": "datum.device == 'Set-top box'"}], "mark": {"type": "bar", "width": 37, "xOffset": 37, "clip": true}, "encoding": {"color": {"field": "device", "type": "nominal", "scale": {"domain": ["Samsung TV", "LG TV", "Set-top box"], "range": ["#00FFFF", "#E5007A", "#FFFF00"]}, "legend": null}}},
  {"transform": [{"filter": "datum.device == 'Samsung TV'"}], "mark": {"type": "bar", "fill": {"expr": "hatchS"}, "width": 37, "xOffset": -37, "clip": true}},
  {"transform": [{"filter": "datum.device == 'LG TV'"}], "mark": {"type": "bar", "fill": {"expr": "hatchL"}, "width": 37, "xOffset": 0, "clip": true}},
  {"transform": [{"filter": "datum.device == 'Set-top box'"}], "mark": {"type": "bar", "fill": {"expr": "hatchY1"}, "width": 37, "xOffset": 37, "clip": true}},
  {"transform": [{"filter": "datum.device == 'Set-top box'"}], "mark": {"type": "bar", "fill": {"expr": "hatchY2"}, "width": 37, "xOffset": 37, "clip": true}}
 ]}
],
"config": {
 "font": "Liberation Sans",
 "view": {"stroke": null},
 "bar": {"stroke": "black", "strokeWidth": 3},
 "legend": {"symbolType": "M-2.02,-1H2.02V1H-2.02Z", "symbolSize": 3136, "symbolStrokeColor": "black", "symbolStrokeWidth": 3, "symbolOffset": 28.5, "labelOffset": 40, "labelFontSize": 50, "labelFont": "Liberation Sans", "labelColor": "black", "labelLimit": 600, "rowPadding": -7, "padding": 9, "strokeColor": "black", "strokeWidth": 3, "symbolOpacity": 1},
 "axis": {"labelFont": "Liberation Sans", "titleFont": "Liberation Sans", "domainColor": "black", "tickColor": "black", "labelColor": "black", "titleColor": "black", "grid": false, "domainWidth": 4, "tickWidth": 3, "labelFontSize": 46, "titleFontSize": 51, "titleFontWeight": "normal", "labelOverlap": false},
 "axisX": {"labelPadding": 14, "titlePadding": 26, "titleAnchor": "end", "labelFlush": false},
 "axisY": {"labelPadding": 10, "titlePadding": 2}
}
}
